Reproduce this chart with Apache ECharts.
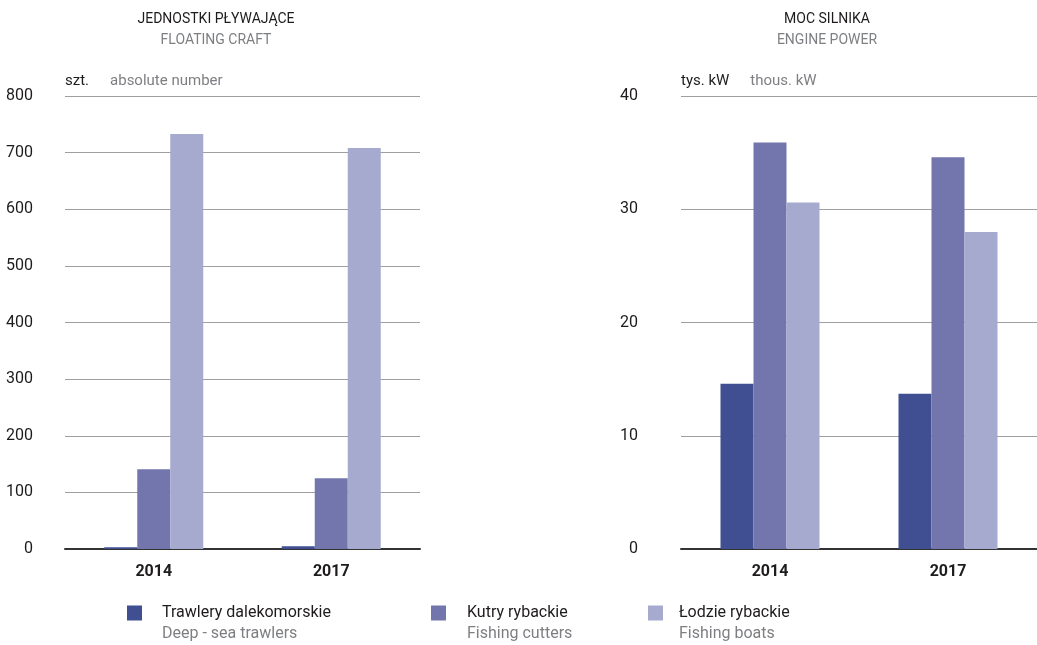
<!DOCTYPE html>
<html>
<head>
<meta charset="utf-8">
<title>Jednostki pływające i moc silnika</title>
<script src="https://cdn.jsdelivr.net/npm/echarts@6/dist/echarts.min.js"></script>
<style>
  html, body { margin: 0; padding: 0; background: #ffffff; }
  #chart { width: 1037px; height: 645px; }
</style>
</head>
<body>
<div id="chart"></div>
<script>
// Years on the category axes
const years = ['2014', '2017'];

// Series names (Polish / English)
const namesPl = ['Trawlery dalekomorskie', 'Kutry rybackie', 'Łodzie rybackie'];
const namesEn = ['Deep - sea trawlers', 'Fishing cutters', 'Fishing boats'];

// Floating craft, absolute number
const trawlersCount = [3, 5];
const cuttersCount = [141, 125];
const boatsCount = [733, 708];

// Engine power, thousand kW
const trawlersPower = [14.6, 13.7];
const cuttersPower = [35.9, 34.6];
const boatsPower = [30.6, 28.0];

// Value axis ranges
const countTicks = { min: 0, max: 800, interval: 100 };
const powerTicks = { min: 0, max: 40, interval: 10 };

const FONT = 'Roboto, "Noto Sans", sans-serif';
const colors = ['#3f4f91', '#7276ad', '#a6aacf'];
const dark = '#1e1b1c';
const grey = '#7d7f82';

const chart = echarts.init(document.getElementById('chart'), null, { renderer: 'canvas' });

function unitName(pl, en) {
  return '{a|' + pl + '}{b|' + en + '}';
}

function valueAxis(gridIndex, ticks, pl, en) {
  return {
    type: 'value',
    gridIndex: gridIndex,
    min: ticks.min,
    max: ticks.max,
    interval: ticks.interval,
    name: unitName(pl, en),
    nameLocation: 'end',
    nameGap: 7,
    nameTextStyle: {
      align: 'left',
      verticalAlign: 'bottom',
      rich: {
        a: { fontFamily: FONT, fontSize: 15, color: dark },
        b: { fontFamily: FONT, fontSize: 15, color: grey, padding: [0, 0, 0, 21] }
      }
    },
    axisLine: { show: false },
    axisTick: { show: false },
    axisLabel: {
      fontFamily: FONT, fontSize: 16, color: dark,
      margin: gridIndex === 0 ? 32 : 43
    },
    splitLine: { lineStyle: { color: '#9d9fa2', width: 1 } }
  };
}

function categoryAxis(gridIndex) {
  return {
    type: 'category',
    gridIndex: gridIndex,
    data: years,
    axisTick: { show: false },
    axisLine: { lineStyle: { color: '#333333', width: 2 } },
    axisLabel: {
      fontFamily: FONT, fontSize: 16, fontWeight: 'bold', color: dark, margin: 15
    }
  };
}

function barSeries(idx, axisIndex, data) {
  return {
    type: 'bar',
    name: namesPl[idx],
    xAxisIndex: axisIndex,
    yAxisIndex: axisIndex,
    data: data,
    barWidth: 33,
    barGap: '0%',
    itemStyle: { color: colors[idx] },
    emphasis: { disabled: true }
  };
}

const legendLeft = [122, 426, 643];
const legendPad = [15, 16, 11];
const legends = namesPl.map(function (name, i) {
  return {
    data: [name],
    left: legendLeft[i],
    top: 579,
    itemWidth: 15,
    itemHeight: 15,
    icon: 'rect',
    selectedMode: false,
    formatter: function (n) {
      return '{e| }\n{a|' + n + '}\n{b|' + namesEn[namesPl.indexOf(n)] + '}';
    },
    textStyle: {
      rich: {
        e: { fontFamily: FONT, fontSize: 16, lineHeight: 21 },
        a: { fontFamily: FONT, fontSize: 16, lineHeight: 21, color: dark, padding: [0, 0, 0, legendPad[i]] },
        b: { fontFamily: FONT, fontSize: 16, lineHeight: 21, color: grey, padding: [0, 0, 0, legendPad[i]] }
      }
    }
  };
});

const option = {
  animation: false,
  backgroundColor: '#ffffff',
  color: colors,
  title: [
    {
      text: 'JEDNOSTKI PŁYWAJĄCE',
      subtext: 'FLOATING CRAFT',
      left: 211, top: 7, textAlign: 'center', itemGap: 7,
      textStyle: { fontFamily: FONT, fontSize: 14, fontWeight: 'normal', color: dark },
      subtextStyle: { fontFamily: FONT, fontSize: 14, color: grey }
    },
    {
      text: 'MOC SILNIKA',
      subtext: 'ENGINE POWER',
      left: 822, top: 7, textAlign: 'center', itemGap: 7,
      textStyle: { fontFamily: FONT, fontSize: 14, fontWeight: 'normal', color: dark },
      subtextStyle: { fontFamily: FONT, fontSize: 14, color: grey }
    }
  ],
  legend: legends,
  grid: [
    { left: 65, right: 617, top: 96, bottom: 96 },
    { left: 681, right: -4, top: 96, bottom: 96 }
  ],
  xAxis: [categoryAxis(0), categoryAxis(1)],
  yAxis: [
    valueAxis(0, countTicks, 'szt.', 'absolute number'),
    valueAxis(1, powerTicks, 'tys. kW', 'thous. kW')
  ],
  series: [
    barSeries(0, 0, trawlersCount),
    barSeries(1, 0, cuttersCount),
    barSeries(2, 0, boatsCount),
    barSeries(0, 1, trawlersPower),
    barSeries(1, 1, cuttersPower),
    barSeries(2, 1, boatsPower)
  ]
};

chart.setOption(option);
</script>
</body>
</html>
